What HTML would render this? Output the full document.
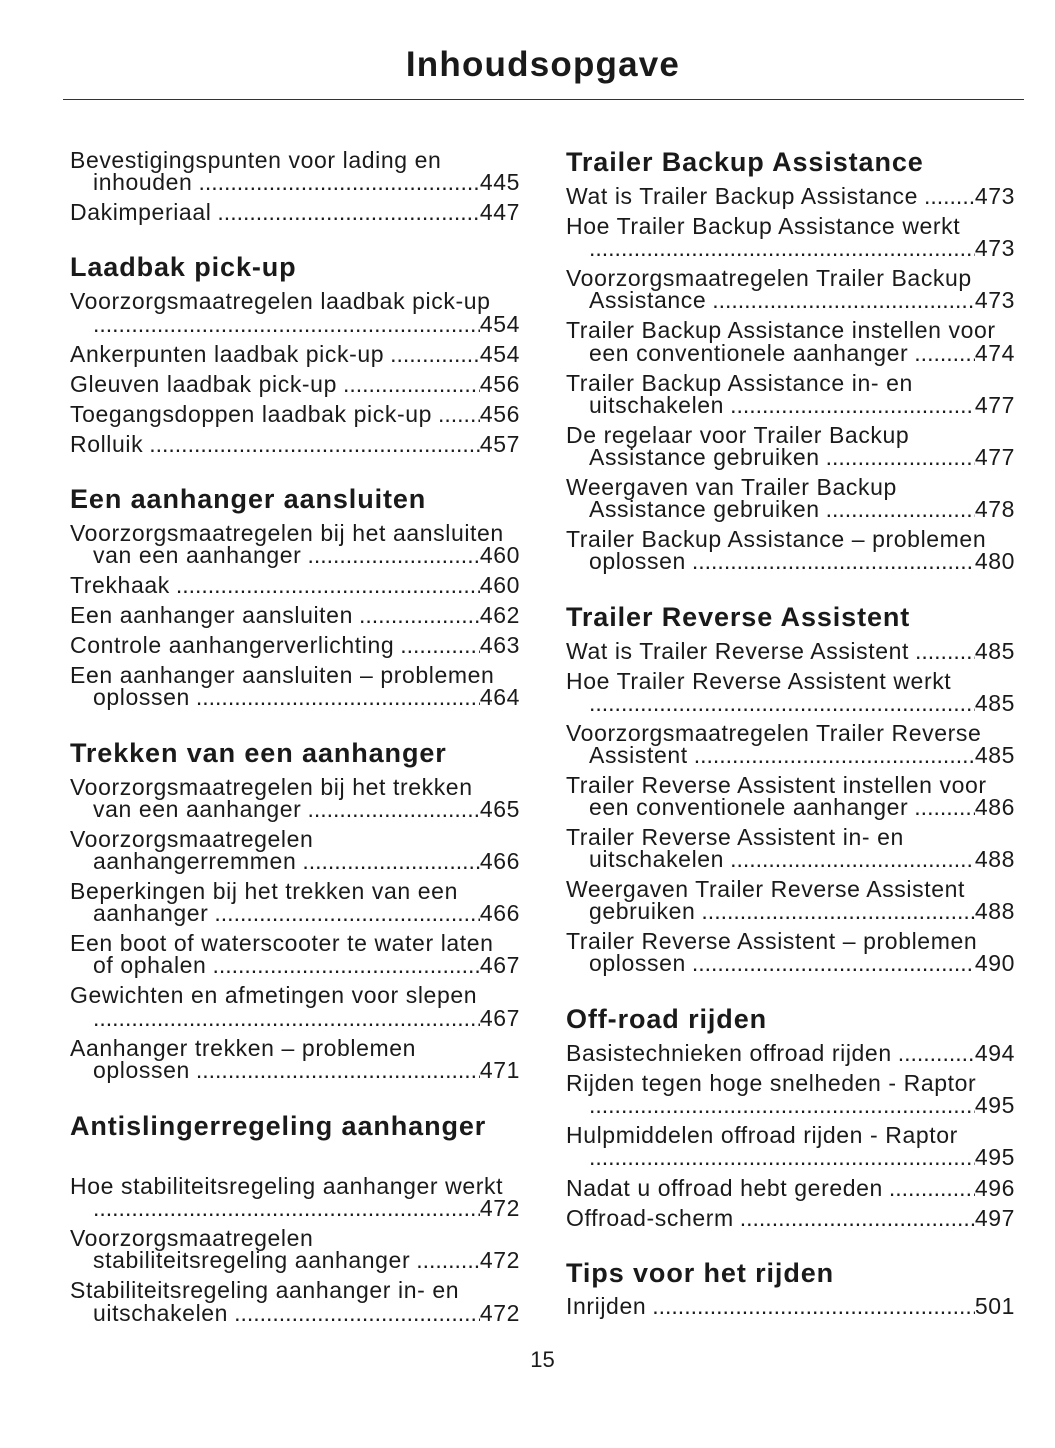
<!DOCTYPE html>
<html><head><meta charset="utf-8">
<style>
body{margin:0;background:#fff;}
#p{position:relative;width:1055px;height:1448px;background:#fff;color:#1a1a1a;font-family:"Liberation Sans",sans-serif;overflow:hidden}
.t{position:absolute;left:0;width:1086px;text-align:center;top:45px;font-size:35px;font-weight:bold;letter-spacing:1.2px}
.r{position:absolute;left:63px;width:961px;top:99px;height:1px;background:#333}
.e{position:absolute;height:26px;line-height:26px;font-size:23px;letter-spacing:0.6px;display:flex;white-space:nowrap}
.e i{flex:1;overflow:hidden;margin-left:6px;letter-spacing:0}
.e i::after{content:"..................................................................................................................................................................................................";font-style:normal}
.h{position:absolute;height:30px;line-height:30px;font-size:27px;font-weight:bold;white-space:nowrap;letter-spacing:0.9px}
.L{left:70px;width:450px}.LC{left:93px;width:427px}
.R{left:566px;width:449px}.RC{left:589px;width:426px}
.n{position:absolute;left:0;width:1085px;text-align:center;top:1347px;font-size:22px}
</style></head><body><div id="p">
<div class="t">Inhoudsopgave</div><div class="r"></div>

<div class="e L" style="top:147px">Bevestigingspunten voor lading en</div>
<div class="e LC" style="top:169px"><span>inhouden</span><i></i><span>445</span></div>
<div class="e L" style="top:199px"><span>Dakimperiaal</span><i></i><span>447</span></div>
<div class="h L" style="top:252px">Laadbak pick-up</div>
<div class="e L" style="top:288px">Voorzorgsmaatregelen laadbak pick-up</div>
<div class="e LC" style="top:311px"><span></span><i style="margin-left:0"></i><span>454</span></div>
<div class="e L" style="top:341px"><span>Ankerpunten laadbak pick-up</span><i></i><span>454</span></div>
<div class="e L" style="top:371px"><span>Gleuven laadbak pick-up</span><i></i><span>456</span></div>
<div class="e L" style="top:401px"><span>Toegangsdoppen laadbak pick-up</span><i></i><span>456</span></div>
<div class="e L" style="top:431px"><span>Rolluik</span><i></i><span>457</span></div>
<div class="h L" style="top:484px">Een aanhanger aansluiten</div>
<div class="e L" style="top:520px">Voorzorgsmaatregelen bij het aansluiten</div>
<div class="e LC" style="top:542px"><span>van een aanhanger</span><i></i><span>460</span></div>
<div class="e L" style="top:572px"><span>Trekhaak</span><i></i><span>460</span></div>
<div class="e L" style="top:602px"><span>Een aanhanger aansluiten</span><i></i><span>462</span></div>
<div class="e L" style="top:632px"><span>Controle aanhangerverlichting</span><i></i><span>463</span></div>
<div class="e L" style="top:662px">Een aanhanger aansluiten – problemen</div>
<div class="e LC" style="top:684px"><span>oplossen</span><i></i><span>464</span></div>
<div class="h L" style="top:738px">Trekken van een aanhanger</div>
<div class="e L" style="top:774px">Voorzorgsmaatregelen bij het trekken</div>
<div class="e LC" style="top:796px"><span>van een aanhanger</span><i></i><span>465</span></div>
<div class="e L" style="top:826px">Voorzorgsmaatregelen</div>
<div class="e LC" style="top:848px"><span>aanhangerremmen</span><i></i><span>466</span></div>
<div class="e L" style="top:878px">Beperkingen bij het trekken van een</div>
<div class="e LC" style="top:900px"><span>aanhanger</span><i></i><span>466</span></div>
<div class="e L" style="top:930px">Een boot of waterscooter te water laten</div>
<div class="e LC" style="top:952px"><span>of ophalen</span><i></i><span>467</span></div>
<div class="e L" style="top:982px">Gewichten en afmetingen voor slepen</div>
<div class="e LC" style="top:1005px"><span></span><i style="margin-left:0"></i><span>467</span></div>
<div class="e L" style="top:1035px">Aanhanger trekken – problemen</div>
<div class="e LC" style="top:1057px"><span>oplossen</span><i></i><span>471</span></div>
<div class="h L" style="top:1111px">Antislingerregeling aanhanger</div>
<div class="e L" style="top:1173px">Hoe stabiliteitsregeling aanhanger werkt</div>
<div class="e LC" style="top:1195px"><span></span><i style="margin-left:0"></i><span>472</span></div>
<div class="e L" style="top:1225px">Voorzorgsmaatregelen</div>
<div class="e LC" style="top:1247px"><span>stabiliteitsregeling aanhanger</span><i></i><span>472</span></div>
<div class="e L" style="top:1277px">Stabiliteitsregeling aanhanger in- en</div>
<div class="e LC" style="top:1300px"><span>uitschakelen</span><i></i><span>472</span></div>

<div class="h R" style="top:147px">Trailer Backup Assistance</div>
<div class="e R" style="top:183px"><span>Wat is Trailer Backup Assistance</span><i></i><span>473</span></div>
<div class="e R" style="top:213px">Hoe Trailer Backup Assistance werkt</div>
<div class="e RC" style="top:235px"><span></span><i style="margin-left:0"></i><span>473</span></div>
<div class="e R" style="top:265px">Voorzorgsmaatregelen Trailer Backup</div>
<div class="e RC" style="top:287px"><span>Assistance</span><i></i><span>473</span></div>
<div class="e R" style="top:317px">Trailer Backup Assistance instellen voor</div>
<div class="e RC" style="top:340px"><span>een conventionele aanhanger</span><i></i><span>474</span></div>
<div class="e R" style="top:370px">Trailer Backup Assistance in- en</div>
<div class="e RC" style="top:392px"><span>uitschakelen</span><i></i><span>477</span></div>
<div class="e R" style="top:422px">De regelaar voor Trailer Backup</div>
<div class="e RC" style="top:444px"><span>Assistance gebruiken</span><i></i><span>477</span></div>
<div class="e R" style="top:474px">Weergaven van Trailer Backup</div>
<div class="e RC" style="top:496px"><span>Assistance gebruiken</span><i></i><span>478</span></div>
<div class="e R" style="top:526px">Trailer Backup Assistance – problemen</div>
<div class="e RC" style="top:548px"><span>oplossen</span><i></i><span>480</span></div>
<div class="h R" style="top:602px">Trailer Reverse Assistent</div>
<div class="e R" style="top:638px"><span>Wat is Trailer Reverse Assistent</span><i></i><span>485</span></div>
<div class="e R" style="top:668px">Hoe Trailer Reverse Assistent werkt</div>
<div class="e RC" style="top:690px"><span></span><i style="margin-left:0"></i><span>485</span></div>
<div class="e R" style="top:720px">Voorzorgsmaatregelen Trailer Reverse</div>
<div class="e RC" style="top:742px"><span>Assistent</span><i></i><span>485</span></div>
<div class="e R" style="top:772px">Trailer Reverse Assistent instellen voor</div>
<div class="e RC" style="top:794px"><span>een conventionele aanhanger</span><i></i><span>486</span></div>
<div class="e R" style="top:824px">Trailer Reverse Assistent in- en</div>
<div class="e RC" style="top:846px"><span>uitschakelen</span><i></i><span>488</span></div>
<div class="e R" style="top:876px">Weergaven Trailer Reverse Assistent</div>
<div class="e RC" style="top:898px"><span>gebruiken</span><i></i><span>488</span></div>
<div class="e R" style="top:928px">Trailer Reverse Assistent – problemen</div>
<div class="e RC" style="top:950px"><span>oplossen</span><i></i><span>490</span></div>
<div class="h R" style="top:1004px">Off-road rijden</div>
<div class="e R" style="top:1040px"><span>Basistechnieken offroad rijden</span><i></i><span>494</span></div>
<div class="e R" style="top:1070px">Rijden tegen hoge snelheden - Raptor</div>
<div class="e RC" style="top:1092px"><span></span><i style="margin-left:0"></i><span>495</span></div>
<div class="e R" style="top:1122px">Hulpmiddelen offroad rijden - Raptor</div>
<div class="e RC" style="top:1144px"><span></span><i style="margin-left:0"></i><span>495</span></div>
<div class="e R" style="top:1175px"><span>Nadat u offroad hebt gereden</span><i></i><span>496</span></div>
<div class="e R" style="top:1205px"><span>Offroad-scherm</span><i></i><span>497</span></div>
<div class="h R" style="top:1258px">Tips voor het rijden</div>
<div class="e R" style="top:1293px"><span>Inrijden</span><i></i><span>501</span></div>

<div class="n">15</div>
</div></body></html>
